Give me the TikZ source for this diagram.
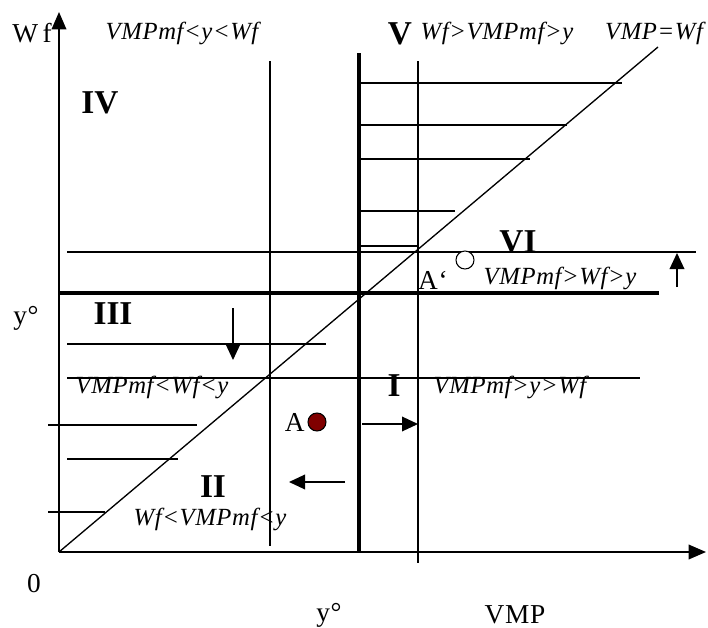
\documentclass[tikz,border=0pt]{standalone}
\usepackage{fontspec}
\setmainfont{Liberation Serif}
\newfontfamily\spacedserif[LetterSpace=2.5]{Liberation Serif}
\usepackage{tikz}
\usetikzlibrary{arrows.meta,positioning}
\definecolor{DotRed}{HTML}{800000}
\tikzset{
  thinline/.style={line width=1pt, draw=black},
  thickline/.style={line width=3.6pt, draw=black},
  axis/.style={line width=1pt, -{Triangle[length=13pt, width=11pt]}},
  shiftarrow/.style={line width=1pt, -{Triangle[length=12pt, width=11pt]}},
  regionlabel/.style={font=\fontsize{25}{28}\selectfont\bfseries, inner sep=0pt, text height=16.5pt, text depth=0pt},
  condition/.style={font=\spacedserif\fontsize{18.5}{22}\selectfont\itshape, inner sep=0pt, text height=12.5pt, text depth=3.5pt},
  axislabel/.style={font=\spacedserif\fontsize{20.5}{24}\selectfont, inner sep=0pt}
}
\begin{document}
\begin{tikzpicture}[x=0.75pt, y=-0.75pt]
  \useasboundingbox (0,0) rectangle (708,628);
  \coordinate (origin) at (59,552);

  % axes
  \draw[axis] (origin) -- (59,12);
  \draw[axis] (origin) -- (706,552);

  % shading lines of the regions
  \draw[thinline] (361,83) -- (622,83);
  \draw[thinline] (361,125) -- (567,125);
  \draw[thinline] (361,159) -- (530,159);
  \draw[thinline] (361,211) -- (455,211);
  \draw[thinline] (361,246) -- (418,246);
  \draw[thinline] (67,252) -- (696,252);
  \draw[thinline] (67,344) -- (326,344);
  \draw[thinline] (67,378) -- (640,378);
  \draw[thinline] (48,425) -- (197,425);
  \draw[thinline] (67,459) -- (178,459);
  \draw[thinline] (48,512) -- (105,512);

  % thin verticals
  \draw[thinline] (270,61) -- (270,546);
  \draw[thinline] (418,61) -- (418,563);

  % thick borders at y and VMPmf
  \draw[thickline] (359,53) -- (359,552);
  \draw[thickline] (59,293) -- (659,293);

  % VMP = Wf
  \draw[thinline] (origin) -- (658,47);

  % shifts
  \draw[shiftarrow] (233,308) -- (233,360);
  \draw[shiftarrow] (362,424) -- (418,424);
  \draw[shiftarrow] (345,482) -- (289,482);
  \draw[shiftarrow] (677,287) -- (677,253);

  % points
  \node[circle, draw=black, fill=DotRed, line width=0.8pt, minimum size=13.5pt, inner sep=0pt] (pointA) at (317,422) {};
  \node[circle, draw=black, fill=white, line width=0.8pt, minimum size=13.5pt, inner sep=0pt] (pointAprime) at (465,260) {};
  \node[axislabel, left=2pt of pointA] (labelA) {A};
  \node[axislabel] (labelAprime) at (433,280) {A‘};

  % axis labels
  \node[axislabel] (labelWf) at (32,33) {W\,f};
  \node[axislabel] (labelYleft) at (26,318) {y°};
  \node[axislabel] (labelZero) at (34,584) {0};
  \node[axislabel] (labelYbottom) at (329,615) {y°};
  \node[axislabel] (labelVMP) at (515,615) {VMP};

  % regions
  \node[regionlabel] (regionI) at (394,385) {I};
  \node[regionlabel] (regionII) at (213,486) {II};
  \node[regionlabel] (regionIII) at (113,313) {III};
  \node[regionlabel] (regionIV) at (100,102) {IV};
  \node[regionlabel] (regionV) at (400,33) {V};
  \node[regionlabel] (regionVI) at (518,241) {VI};

  % conditions
  \node[condition] (condIV) at (182,33) {VMPmf<y<Wf};
  \node[condition] (condV) at (497,33) {Wf>VMPmf>y};
  \node[condition] (condDiag) at (654,33) {VMP=Wf};
  \node[condition] (condVI) at (560,278) {VMPmf>Wf>y};
  \node[condition] (condIII) at (152,387) {VMPmf<Wf<y};
  \node[condition] (condI) at (510,387) {VMPmf>y>Wf};
  \node[condition] (condII) at (210,519) {Wf<VMPmf<y};
\end{tikzpicture}
\end{document}
